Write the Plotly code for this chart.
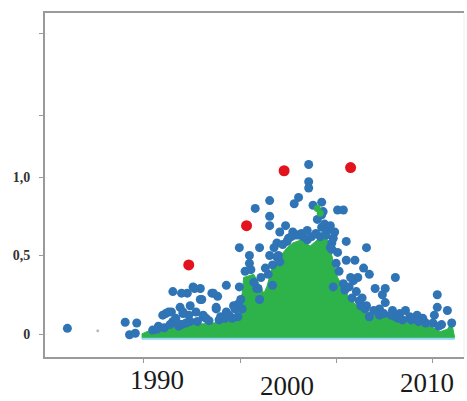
import plotly.graph_objects as go

# ---- data ----
green_x = [1989.84, 1990.2, 1991.1, 1992.0, 1993.4, 1994.8, 1996.0, 1996.4, 1996.8, 1996.9,
           1997.6, 1997.9, 1998.3, 1998.5, 1998.9, 1999.4, 1999.9, 2000.3, 2000.9, 2001.5,
           2002.0, 2002.4, 2002.7, 2003.0, 2003.4, 2004.0, 2004.7, 2005.2, 2006.1, 2007.2,
           2008.9, 2009.6, 2010.5, 2011.0, 2011.3, 2011.5]
green_y = [0.0, 0.015, 0.025, 0.04, 0.06, 0.07, 0.09, 0.13, 0.26, 0.36,
           0.38, 0.33, 0.26, 0.30, 0.43, 0.49, 0.55, 0.58, 0.60, 0.56,
           0.60, 0.66, 0.60, 0.50, 0.36, 0.26, 0.18, 0.15, 0.12, 0.10,
           0.08, 0.06, 0.015, 0.03, 0.07, -0.02]
green_pts_x = [2002.0, 2002.2]
green_pts_y = [0.80, 0.77]

blue_x = [1984.7, 1988.7, 1989.5, 1989.0, 1989.4, 1990.6, 1991.0, 1991.5, 1991.9, 1992.1,
          1992.0, 1993.0, 1992.6, 1993.4, 1993.9, 1994.7, 1995.1, 1995.7, 1993.9, 1991.3,
          1991.7, 1992.5, 1993.2, 1993.1, 1992.0, 1992.6, 1994.1, 1995.0, 1995.7, 1996.2,
          1996.5, 1992.2, 1992.7, 1993.2, 1993.6, 1992.4, 1994.3, 1995.3, 1995.9, 1996.3,
          1996.8, 1993.5, 1994.8, 1994.0, 1995.0, 1996.5, 1994.1, 1992.7,
          1996.6, 1997.3, 1997.3, 1998.0, 1997.9, 1999.2, 1998.9, 1999.4, 1997.8, 1998.0,
          1997.6, 1998.6, 1998.9,
          2001.4, 2001.4, 2001.4, 2000.7, 2000.4, 1998.7, 1997.7, 1998.7, 1998.7, 1999.8,
          1999.4, 2000.3, 2001.7, 2002.3, 2002.4, 2002.0, 2002.3, 2000.7, 2001.3, 2002.2,
          2002.7, 1999.9, 1999.2, 1999.3, 2000.0, 2000.5, 2001.0, 2001.6, 2002.6, 2003.0,
          2003.4, 2003.8, 2002.3, 2003.2, 2003.1, 2004.0, 2005.4,
          2002.9, 2003.4, 2004.0, 2004.6, 2005.2, 2005.6, 2004.8, 2004.5, 2007.4, 2006.0,
          2006.7, 2006.5, 2005.1, 2005.4, 2006.7, 2007.2, 2007.7, 2008.4, 2010.3, 2010.3,
          2011.0, 2010.1, 2005.6, 2006.3, 2007.4, 2007.9, 2004.3, 2003.9, 2004.7, 2003.1,
          2008.1, 2008.9, 2009.3, 2010.6, 2006.3, 2005.0,
          1990.9, 1991.4, 1991.8, 1992.3, 1992.9, 1993.7, 1994.5, 1995.2, 1995.6, 1996.1,
          1996.7, 1996.6, 1997.0, 1997.4, 1998.1, 1998.4, 1998.7, 1999.0, 1999.6,
          2000.2, 2000.9, 2001.3, 2001.9, 2002.5, 2002.9, 2003.0, 2003.3, 2003.5, 2003.8,
          2004.2, 2004.4, 2004.9, 2005.3, 2005.9, 2006.6, 2007.1, 2007.6, 2008.5, 2009.0,
          2009.5, 2010.0, 2010.4, 2011.3]
blue_y = [0.036, 0.075, 0.07, -0.005, 0.005, 0.025, 0.05, 0.13, 0.14, 0.07,
          0.27, 0.26, 0.26, 0.30, 0.29, 0.26, 0.24, 0.31, 0.22, 0.12,
          0.14, 0.17, 0.18, 0.12, 0.08, 0.06, 0.12, 0.16, 0.14, 0.18,
          0.19, 0.10, 0.13, 0.08, 0.14, 0.05, 0.10, 0.11, 0.12, 0.16,
          0.16, 0.29, 0.26, 0.22, 0.17, 0.11, 0.11, 0.14,
          0.55, 0.50, 0.45, 0.55, 0.29, 0.49, 0.44, 0.46, 0.29, 0.22,
          0.33, 0.38, 0.31,
          1.08, 0.97, 0.93, 0.87, 0.83, 0.85, 0.80, 0.75, 0.69, 0.69,
          0.65, 0.65, 0.82, 0.84, 0.78, 0.73, 0.68, 0.63, 0.60, 0.62,
          0.66, 0.59, 0.58, 0.50, 0.61, 0.63, 0.62, 0.62, 0.63, 0.58,
          0.79, 0.79, 0.76, 0.65, 0.61, 0.59, 0.55,
          0.55, 0.52, 0.47, 0.47, 0.42, 0.38, 0.36, 0.34, 0.36, 0.29,
          0.29, 0.25, 0.23, 0.18, 0.20, 0.15, 0.13, 0.11, 0.25, 0.17,
          0.15, 0.12, 0.11, 0.12, 0.11, 0.09, 0.36, 0.28, 0.27, 0.30,
          0.15, 0.12, 0.10, 0.06, 0.16, 0.18,
          0.03, 0.04, 0.06, 0.07, 0.07, 0.08, 0.085, 0.09, 0.10, 0.10,
          0.22, 0.30, 0.40, 0.41, 0.36, 0.42, 0.50, 0.55, 0.57,
          0.62, 0.64, 0.66, 0.64, 0.70, 0.69, 0.54, 0.45, 0.40, 0.32,
          0.30, 0.23, 0.21, 0.16, 0.15, 0.13, 0.12, 0.10, 0.09, 0.08,
          0.07, 0.07, 0.05, 0.07]

red_x = [1993.1, 1997.1, 1999.7, 2004.3]
red_y = [0.44, 0.69, 1.04, 1.06]

y_tickvals = [0, 0.5, 1.0, 1.395, 1.917]
y_ticktext = ["0", "0,5", "1,0", "", ""]
x_tickvals = [1990, 1996.67, 2003.33, 2010]
year_labels = ["1990", "2000", "2010"]
year_label_x = [1990.9, 1999.9, 2009.6]
year_label_y = [-0.067, -0.084, -0.076]

base_y = -0.03

fig = go.Figure()
fig.add_trace(go.Scatter(x=[green_x[0], green_x[-1]], y=[base_y, base_y], mode="lines",
                         line=dict(color="#8fd6ee", width=2), hoverinfo="skip"))
fig.add_trace(go.Scatter(x=green_x, y=green_y, mode="lines", fill="tonexty",
                         fillcolor="#2db34a", line=dict(color="#2db34a", width=1)))
fig.add_trace(go.Scatter(x=blue_x, y=blue_y, mode="markers",
                         marker=dict(color="#2f74b5", size=9, line=dict(width=0))))
fig.add_trace(go.Scatter(x=green_pts_x, y=green_pts_y, mode="markers",
                         marker=dict(color="#2db34a", size=7, line=dict(width=0))))
fig.add_trace(go.Scatter(x=[1986.8], y=[0.02], mode="markers",
                         marker=dict(color="#bbbbbb", size=3)))
fig.add_trace(go.Scatter(x=red_x, y=red_y, mode="markers",
                         marker=dict(color="#e3131d", size=11, line=dict(width=0))))

for t, xx, yy in zip(year_labels, year_label_x, year_label_y):
    fig.add_annotation(x=xx, y=yy, xref="x", yref="paper", text=t, showarrow=False,
                       font=dict(family="Liberation Serif", size=27, color="#1a1a1a"),
                       xanchor="center", yanchor="middle")

fig.update_layout(
    width=467, height=401,
    margin=dict(l=45, r=3, t=13, b=44),
    paper_bgcolor="white", plot_bgcolor="white",
    showlegend=False,
    xaxis=dict(range=[1983.15, 2012.15], showgrid=False, zeroline=False,
               showline=True, linecolor="#9a9a9a", linewidth=2, mirror=True,
               tickvals=x_tickvals, ticks="outside", ticklen=4, tickcolor="#9a9a9a",
               showticklabels=False),
    yaxis=dict(range=[-0.1465, 2.045], showgrid=False, zeroline=False,
               showline=True, linecolor="#9a9a9a", linewidth=2,
               tickvals=y_tickvals, ticktext=y_ticktext, ticks="outside", ticklen=4,
               tickcolor="#9a9a9a", ticklabelstandoff=6,
               tickfont=dict(family="Liberation Serif", size=14, color="#333333",
                             weight="bold")),
)
fig.add_shape(type="line", xref="paper", yref="paper", x0=1, x1=1, y0=0, y1=1,
              line=dict(color="#eeeeee", width=1))

fig.write_html("out.html")
